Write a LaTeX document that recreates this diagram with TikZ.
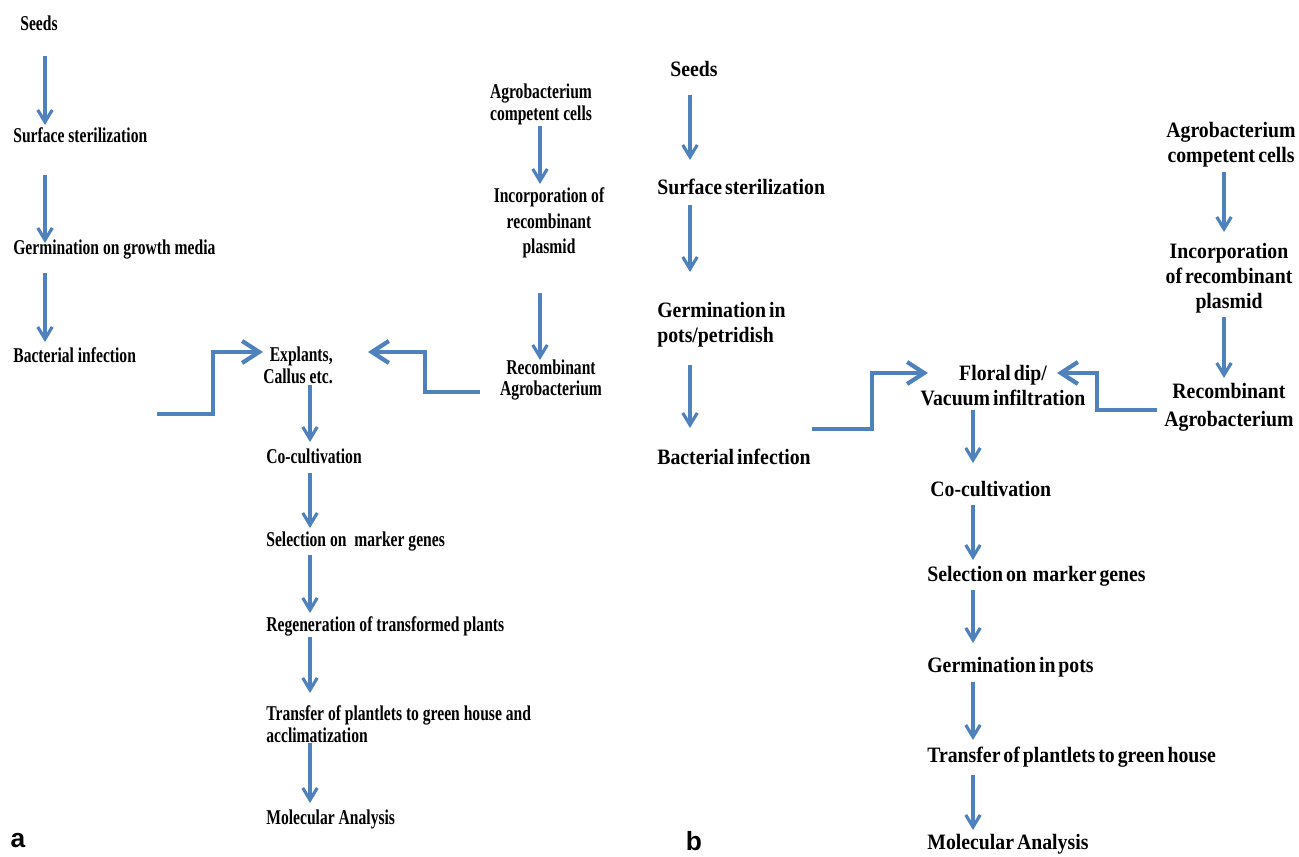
\documentclass[tikz,border=0pt]{standalone}
\usepackage{fontspec}
\setmainfont{Liberation Serif}
\newfontfamily\panelafont[FakeStretch=0.74]{Liberation Serif}
\newfontfamily\panelbfont[FakeStretch=0.9, WordSpace=0.6]{Liberation Serif}
\newfontfamily\tagfont{Liberation Sans}
\usepackage{tikz}
\usetikzlibrary{calc}
\usetikzlibrary{positioning}
\usetikzlibrary{arrows.meta}
\definecolor{flowblue}{RGB}{79,129,189}

\begin{document}
\begin{tikzpicture}
		[
		x=0.02cm, y=-0.02cm,
		inner sep=0
		]
		
		% Text styles for the two panels
		\tikzstyle{stage a}=[font=\panelafont\bfseries\fontsize{12}{12.5}\selectfont, text height=1.5ex, text depth=.3ex];
		\tikzstyle{block a}=[font=\panelafont\bfseries\fontsize{12}{12.5}\selectfont, align=center];
		\tikzstyle{stage b}=[font=\panelbfont\bfseries\fontsize{12.5}{14.2}\selectfont, text height=1.5ex, text depth=.3ex];
		\tikzstyle{block b}=[font=\panelbfont\bfseries\fontsize{12.5}{14.2}\selectfont, align=center];
		\tikzstyle{panel tag}=[font=\tagfont\bfseries\fontsize{15}{18}\selectfont];
		
		% Arrow styles: straight steps and elbow joins
		\tikzstyle{flow}=[draw=flowblue, line width=1.8pt, -{Straight Barb[length=2.4mm, width=2.9mm]}];
		\tikzstyle{elbow}=[draw=flowblue, line width=2.4pt, -{Straight Barb[length=3.4mm, width=4.4mm]}];
		
		\useasboundingbox (0,0) rectangle (1299,857);
		
		% Columns of the arrows
		\coordinate (colA) at (45,0);
		\coordinate (colAgA) at (540,0);
		\coordinate (colMA) at (310,0);
		\coordinate (colB) at (690,0);
		\coordinate (colAgB) at (1224,0);
		\coordinate (colMB) at (973,0);
		
		% Panel a: plant side
		\node(seedsA)[stage a, anchor=west] at (20,26) {Seeds};
		\node(surfA)[stage a, anchor=west] at (13,138) {Surface sterilization};
		\node(germA)[stage a, anchor=west] at (13,250) {Germination on growth media};
		\node(bactA)[stage a, anchor=west] at (13,358) {Bacterial infection};
		
		% Panel a: bacterium side
		\node(agroA)[block a] at (541,104) {Agrobacterium\\competent cells};
		\node(incA)[block a] at (549,223) {Incorporation of\\[2.2pt]recombinant\\[2.2pt]plasmid};
		\node(recA)[block a] at (551,380) {Recombinant\\Agrobacterium};
		
		% Panel a: transformation
		\node(explA)[block a, align=right] at (298,365) {Explants,\\Callus etc.};
		\node(cocA)[stage a, anchor=west] at (266,459) {Co-cultivation};
		\node(selA)[stage a, anchor=west] at (266,542) {Selection on~ marker genes};
		\node(regA)[stage a, anchor=west] at (266,627) {Regeneration of transformed plants};
		\node(trA)[block a, align=left, anchor=west] at (266,724) {Transfer of plantlets to green house and\\acclimatization};
		\node(molA)[stage a, anchor=west] at (266,820) {Molecular Analysis};
		\node(tagA)[panel tag] at (18,841) {a};
		
		% Panel b: plant side
		\node(seedsB)[stage b, anchor=west] at (670,72) {Seeds};
		\node(surfB)[stage b, anchor=west] at (657,190) {Surface sterilization};
		\node(germB)[block b, align=left, anchor=west] at (657,325) {Germination in\\pots/petridish};
		\node(bactB)[stage b, anchor=west] at (657,460) {Bacterial infection};
		
		% Panel b: bacterium side
		\node(agroB)[block b] at (1231,145) {Agrobacterium\\competent cells};
		\node(incB)[block b] at (1229,278) {Incorporation\\of recombinant\\plasmid};
		\node(recB)[block b] at (1229,407) {Recombinant\\[1.7pt]Agrobacterium};
		
		% Panel b: transformation
		\node(florB)[block b] at (1003,386) {Floral dip/\\Vacuum infiltration};
		\node(cocB)[stage b, anchor=west] at (930,492) {Co-cultivation};
		\node(selB)[stage b, anchor=west] at (927,577) {Selection on~ marker genes};
		\node(gpB)[stage b, anchor=west] at (927,668) {Germination in pots};
		\node(trB)[stage b, anchor=west] at (927,758) {Transfer of plantlets to green house};
		\node(molB)[stage b, anchor=west] at (927,845) {Molecular Analysis};
		\node(tagB)[panel tag] at (694,841) {b};
		
		% Arrows of panel a
		\draw[flow] ($(seedsA -| colA)+(0,30)$) -- ($(surfA -| colA)+(0,-13)$);
		\draw[flow] ($(surfA -| colA)+(0,37)$) -- ($(germA -| colA)+(0,-7)$);
		\draw[flow] ($(germA -| colA)+(0,23)$) -- ($(bactA -| colA)+(0,-16)$);
		\draw[flow] ($(agroA -| colAgA)+(0,22)$) -- ($(incA -| colAgA)+(0,-39)$);
		\draw[flow] ($(incA -| colAgA)+(0,70)$) -- ($(recA -| colAgA)+(0,-20)$);
		\draw[flow] ($(explA -| colMA)+(0,20)$) -- ($(cocA -| colMA)+(0,-17)$);
		\draw[flow] ($(cocA -| colMA)+(0,14)$) -- ($(selA -| colMA)+(0,-14)$);
		\draw[flow] ($(selA -| colMA)+(0,13)$) -- ($(regA -| colMA)+(0,-14)$);
		\draw[flow] ($(regA -| colMA)+(0,10)$) -- ($(trA -| colMA)+(0,-31)$);
		\draw[flow] ($(trA -| colMA)+(0,19)$) -- ($(molA -| colMA)+(0,-17)$);
		
		% Joins into the explants
		\coordinate (infA) at (157,414);
		\draw[elbow] (infA) -- ++(56,0) |- ($(explA)+(-35,-13)$);
		\draw[elbow] ($(recA)+(-71,12)$) -- ++(-55,0) |- ($(explA)+(70,-13)$);
		
		% Arrows of panel b
		\draw[flow] ($(seedsB -| colB)+(0,23)$) -- ($(surfB -| colB)+(0,-30)$);
		\draw[flow] ($(surfB -| colB)+(0,15)$) -- ($(germB -| colB)+(0,-53)$);
		\draw[flow] ($(germB -| colB)+(0,40)$) -- ($(bactB -| colB)+(0,-32)$);
		\draw[flow] ($(agroB -| colAgB)+(0,27)$) -- ($(incB -| colAgB)+(0,-46)$);
		\draw[flow] ($(incB -| colAgB)+(0,39)$) -- ($(recB -| colAgB)+(0,-29)$);
		\draw[flow] ($(florB -| colMB)+(0,24)$) -- ($(cocB -| colMB)+(0,-29)$);
		\draw[flow] ($(cocB -| colMB)+(0,13)$) -- ($(selB -| colMB)+(0,-17)$);
		\draw[flow] ($(selB -| colMB)+(0,13)$) -- ($(gpB -| colMB)+(0,-25)$);
		\draw[flow] ($(gpB -| colMB)+(0,14)$) -- ($(trB -| colMB)+(0,-18)$);
		\draw[flow] ($(trB -| colMB)+(0,17)$) -- ($(molB -| colMB)+(0,-15)$);
		
		% Joins into the floral dip
		\coordinate (infB) at (812,429);
		\draw[elbow] (infB) -- ++(60,0) |- ($(florB)+(-75,-13)$);
		\draw[elbow] ($(recB)+(-72,3)$) -- ++(-60,0) |- ($(florB)+(54,-13)$);
\end{tikzpicture}
\end{document}
